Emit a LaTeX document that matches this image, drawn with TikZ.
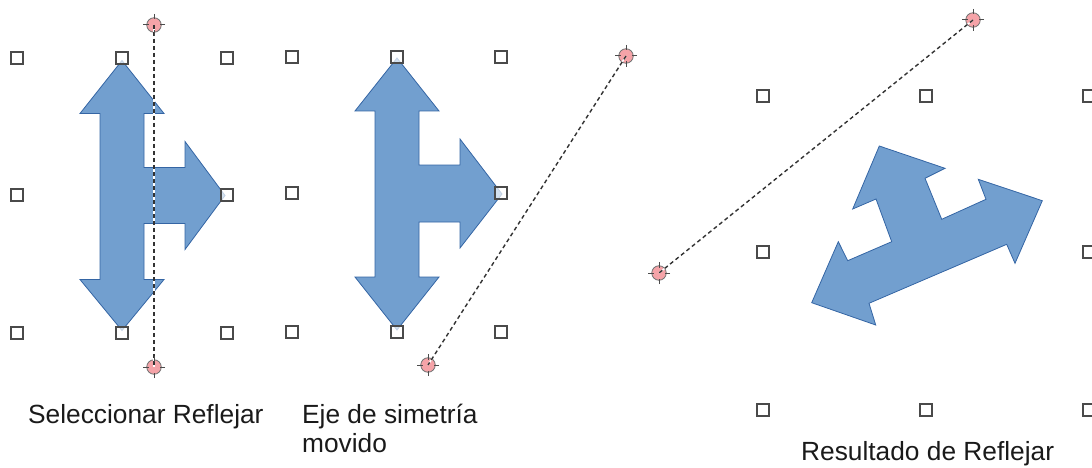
\documentclass[tikz,border=0pt]{standalone}
\usepackage{fontspec}
\setmainfont{Liberation Sans}
\definecolor{shapefill}{HTML}{729FCF}
\definecolor{shapeline}{HTML}{3465A4}
\definecolor{pivotfill}{HTML}{F5A3A8}
\definecolor{handleline}{HTML}{4A4A4A}
\definecolor{txt}{HTML}{1A1A1A}
\tikzset{
  handle/.style={rectangle, draw=handleline, line width=1.4pt, fill=white, fill opacity=0.7, minimum size=12pt, inner sep=0pt},
  pivot/.style={circle, draw=black!55, line width=0.8pt, fill=pivotfill, minimum size=14.5pt, inner sep=0pt},
  pivottick/.style={draw=black!70, line width=1pt},
  axisbg/.style={draw=white, line width=1.4pt},
  axisfg/.style={draw=black!80, line width=1.4pt, dash pattern=on 4pt off 3pt},
  arrowshape/.style={fill=shapefill, draw=shapeline, line width=0.8pt, line join=miter},
  captext/.style={font=\fontsize{26.3}{30}\selectfont, text=txt, anchor=base west, inner sep=0pt}
}
\begin{document}
\begin{tikzpicture}[x=1pt, y=-1pt]
\useasboundingbox (0,0) rectangle (1092,468);
\clip (0,0) rectangle (1092,468);

% shape 1 (original)
\begin{scope}[shift={(122,195.5)}]
\fill[arrowshape] (0,-135) -- (42,-82) -- (22,-82) -- (22,-28) -- (63,-28) -- (63,-54) -- (103,0) -- (63,54) -- (63,28) -- (22,28) -- (22,84) -- (42,84) -- (0,135) -- (-42,84) -- (-22,84) -- (-22,-82) -- (-42,-82) -- cycle;
\end{scope}

% shape 2 (axis moved)
\begin{scope}[shift={(397,194)}]
\fill[arrowshape] (0,-136) -- (42,-83) -- (22,-83) -- (22,-29) -- (63,-29) -- (63,-55) -- (105,0) -- (63,54) -- (63,28) -- (22,28) -- (22,83) -- (42,83) -- (0,136) -- (-42,83) -- (-22,83) -- (-22,-83) -- (-42,-83) -- cycle;
\end{scope}

% shape 3 (result)
\fill[arrowshape] (879.3,146) -- (945,168.3) -- (925,178.3) -- (941.7,219.3) -- (986,199.3) -- (978.3,179.3) -- (1042.3,200.7) -- (1015,263.3) -- (1006.7,244.3) -- (869,303.3) -- (875.7,325) -- (811.7,302.7) -- (838.3,241.7) -- (847.7,260.7) -- (891.7,241.7) -- (876,199) -- (852.7,209) -- cycle;

% selection handles
\foreach \n/\x/\y in {
  a1/17/58, a2/122/58, a3/227/58, a4/17/195, a5/227/195, a6/17/333, a7/122/333, a8/227/333,
  b1/292/57, b2/397/57, b3/501/57, b4/292/193, b5/501/193, b6/292/332, b7/397/332, b8/501/332,
  c1/763/96, c2/926/96, c3/1089/96, c4/763/252, c5/1089/252, c6/763/410, c7/926/410, c8/1089/410}
  \node[handle] (h\n) at (\x,\y) {};

% pivot points of the symmetry axis
\node[pivot] (p1a) at (154,25) {};
\node[pivot] (p1b) at (154,367) {};
\node[pivot] (p2a) at (626,56) {};
\node[pivot] (p2b) at (428,365) {};
\node[pivot] (p3a) at (973,20) {};
\node[pivot] (p3b) at (659,273) {};

% symmetry axes
\foreach \s/\e in {p1a/p1b, p2a/p2b, p3a/p3b} {
  \draw[axisbg] (\s.center) -- (\e.center);
  \draw[axisfg] (\s.center) -- (\e.center);
}

% crosshair ticks on pivots
\foreach \p in {p1a,p1b,p2a,p2b,p3a,p3b}
  \draw[pivottick] (\p.center) ++(0,-11) -- ++(0,5.5)
                   (\p.center) ++(0,11) -- ++(0,-5.5)
                   (\p.center) ++(-11,0) -- ++(5.5,0)
                   (\p.center) ++(11,0) -- ++(-5.5,0);

% captions
\node[captext] (t1) at (28,423) {Seleccionar Reflejar};
\node[captext] (t2) at (302,423) {Eje de simetría};
\node[captext] (t3) at (302,452) {movido};
\node[captext] (t4) at (801,460) {Resultado de Reflejar};
\end{tikzpicture}
\end{document}
